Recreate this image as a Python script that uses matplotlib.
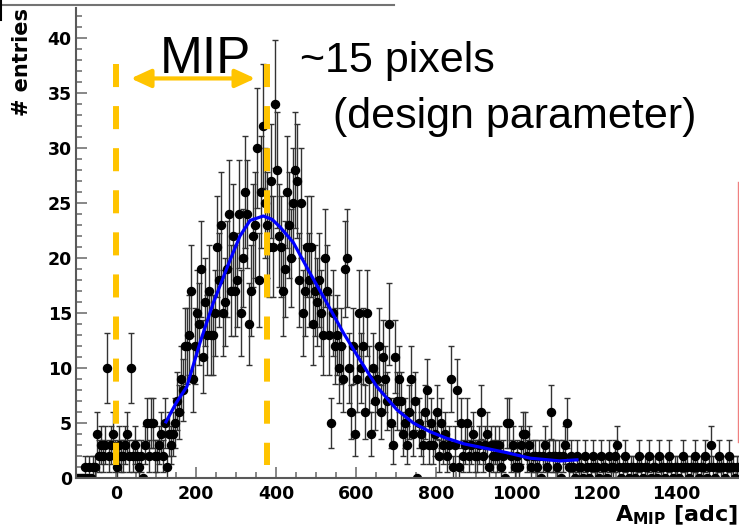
#!/usr/bin/env python3
"""MIP amplitude spectrum with Landau-like fit and annotation."""

import numpy as np
import matplotlib
matplotlib.use("Agg")
import matplotlib.pyplot as plt
from matplotlib.ticker import MultipleLocator
from matplotlib.lines import Line2D

# histogram: 5 adc bins starting at -100 adc
bin_start = -100
bin_width = 5
counts = [
    # -100 .. 0
    0, 0, 0, 0, 1, 0, 1, 0, 1, 1, 4, 2, 3, 2, 3, 10, 2, 3, 4, 2,
    # 0 .. 100
    1, 3, 2, 2, 3, 4, 2, 10, 2, 3, 2, 1, 2, 0, 3, 5, 2, 5, 5, 2,
    # 100 .. 200
    2, 3, 4, 2, 5, 1, 4, 3, 4, 5, 7, 6, 9, 8, 12, 12, 13, 17, 9, 12,
    # 200 .. 300
    15, 14, 19, 11, 16, 13, 17, 13, 13, 15, 21, 18, 23, 15, 16, 19, 24, 17, 22, 17,
    # 300 .. 400
    18, 24, 15, 20, 26, 24, 14, 17, 22, 23, 30, 18, 26, 32, 25, 23, 21, 27, 21, 34,
    # 400 .. 500
    28, 22, 21, 17, 19, 26, 23, 20, 25, 28, 27, 18, 25, 15, 17, 21, 18, 21, 14, 17,
    # 500 .. 600
    16, 18, 15, 13, 20, 17, 13, 5, 15, 12, 13, 10, 12, 9, 19, 20, 10, 6, 12, 4,
    # 600 .. 700
    9, 15, 10, 12, 6, 15, 9, 4, 10, 7, 9, 12, 6, 11, 9, 7, 14, 5, 3, 11,
    # 700 .. 800
    7, 9, 7, 4, 5, 3, 6, 9, 4, 7, 0, 5, 4, 3, 6, 8, 3, 5, 3, 4,
    # 800 .. 900
    6, 2, 5, 3, 4, 2, 3, 9, 1, 3, 8, 1, 5, 2, 3, 5, 2, 3, 4, 2,
    # 900 .. 1000
    2, 3, 6, 2, 3, 4, 1, 3, 2, 3, 2, 3, 1, 2, 0, 5, 5, 2, 3, 1,
    # 1000 .. 1100
    2, 1, 3, 4, 4, 2, 3, 1, 2, 2, 1, 2, 0, 2, 3, 1, 2, 6, 2, 2,
    # 1100 .. 1200
    1, 2, 0, 2, 3, 5, 1, 2, 1, 0, 2, 1, 1, 0, 2, 1, 0, 1, 2, 1,
    # 1200 .. 1300
    1, 0, 2, 1, 1, 0, 2, 1, 1, 2, 3, 1, 0, 1, 2, 1, 0, 1, 1, 0,
    # 1300 .. 1400
    1, 2, 1, 0, 1, 1, 2, 0, 1, 1, 0, 2, 1, 1, 0, 1, 2, 1, 0, 1,
    # 1400 .. 1500
    1, 0, 1, 2, 1, 1, 0, 1, 1, 2, 1, 0, 1, 1, 2, 0, 1, 3, 1, 0,
    # 1500 .. 1560
    1, 2, 1, 1, 0, 1, 2, 1, 1, 0, 1, 1,
]

# fitted curve
fit_x = [125, 150, 177, 210, 243, 285, 310, 335, 368, 390, 410, 443, 485,
         527, 568, 610, 652, 702, 743, 785, 827, 870, 910, 977, 1035, 1110, 1152]
fit_y = [5.1, 6.8, 8.3, 12.3, 15.9, 19.8, 22.0, 23.4, 23.8, 23.5, 22.8, 21.4,
         18.6, 15.9, 13.2, 10.7, 8.3, 6.2, 5.0, 4.2, 3.6, 3.1, 2.8, 2.3, 1.8,
         1.55, 1.65]

mip_lines = [0, 378]
gold = "#ffc400"

W, H = 739, 528
plt.rcParams["lines.scale_dashes"] = False

fig = plt.figure(figsize=(W / 100, H / 100), dpi=100)
ax = fig.add_axes([76 / W, 1 - 478 / H, 663 / W, 470 / H])

n = np.array(counts, dtype=float)
centers = bin_start + bin_width * (np.arange(len(n)) + 0.5)
ax.errorbar(centers, n, yerr=np.sqrt(n), xerr=bin_width / 2, fmt="o",
            color="black", ms=5.8, ecolor="0.2", elinewidth=1.0,
            capsize=2, capthick=1.0, zorder=2)

ax.plot(fit_x, fit_y, color="#0000ff", lw=2.3, zorder=3)

for xv in mip_lines:
    ax.plot([xv, xv], [37.6, 1.2], color=gold, lw=4.3, dashes=(16.6, 13.7),
            solid_capstyle="butt", dash_capstyle="butt", zorder=4)

ax.annotate("", xy=(37, 36.3), xytext=(348, 36.3),
            arrowprops=dict(arrowstyle="<|-|>,head_length=1.2,head_width=0.55",
                            color=gold, lw=3, mutation_scale=10,
                            shrinkA=0, shrinkB=0), zorder=5)

ax.set_xlim(-100, 1557)
ax.set_ylim(0, 42.7)
ax.xaxis.set_major_locator(MultipleLocator(200))
ax.xaxis.set_minor_locator(MultipleLocator(50))
ax.yaxis.set_major_locator(MultipleLocator(5))
ax.yaxis.set_minor_locator(MultipleLocator(1))
ax.set_xticks([0, 200, 400, 600, 800, 1000, 1200, 1400])

for side in ("top", "right"):
    ax.spines[side].set_visible(False)
for side in ("left", "bottom"):
    ax.spines[side].set_color("0.35")
    ax.spines[side].set_linewidth(1.5)

ax.tick_params(which="both", direction="in", color="0.45", width=1.2)
ax.tick_params(which="major", length=8)
ax.tick_params(which="minor", length=4.5)
ax.tick_params(axis="y", pad=3, labelsize=12.5)
ax.tick_params(axis="x", pad=5, labelsize=12.5)
for lab in ax.get_xticklabels() + ax.get_yticklabels():
    lab.set_fontweight("bold")

fig.text(22 / W, 1 - 62 / H, "# entries", rotation=90, ha="center",
         va="center", fontsize=15, fontweight="bold")
fig.text(738 / W, 1 - 527 / H, r"$\mathbf{A}_{\mathbf{MIP}}$ [adc]",
         ha="right", va="bottom", fontsize=16, fontweight="bold")

ann = dict(family="Liberation Sans", color="black")
fig.text(160 / W, 1 - 73 / H, "MIP", ha="left", va="baseline",
         fontsize=37, **ann)
fig.text(300 / W, 1 - 72 / H, "~15 pixels", ha="left", va="baseline",
         fontsize=31, **ann)
fig.text(333 / W, 1 - 128 / H, "(design parameter)", ha="left",
         va="baseline", fontsize=31, **ann)

# frame remnants of the original screenshot
fig.add_artist(Line2D([0, 394 / W], [1 - 5 / H, 1 - 5 / H], color="0.45", lw=1.5))
fig.add_artist(Line2D([1 / W, 1 / W], [1, 1 - 20 / H], color="black", lw=1.5))
fig.add_artist(Line2D([738 / W, 738 / W], [1 - 182 / H, 1 - 442 / H],
                      color="#f08080", lw=1))

fig.savefig("out.png", dpi=100)
